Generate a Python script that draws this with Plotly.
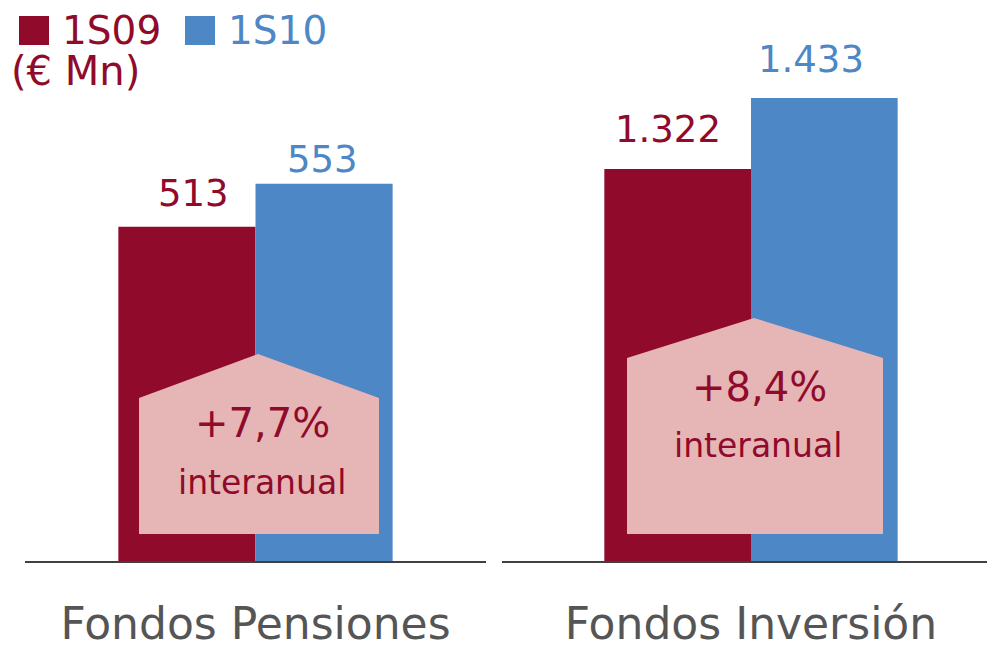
import plotly.graph_objects as go

categories = ["Fondos Pensiones", "Fondos Inversión"]
series_names = ["1S09", "1S10"]
pensiones = [513, 553]
inversion = [1322, 1433]
value_labels_p = ["513", "553"]
value_labels_i = ["1.322", "1.433"]
growth_labels = ["+7,7%", "+8,4%"]
growth_sub = "interanual"
unit_label = "(€ Mn)"

RED = "#8F0A2B"
BLUE = "#4E87C6"
PINK = "#E6B5B5"
GRAY = "#555555"
FONT = "DejaVu Sans"
OFF = 8  # page body margin
W, H = 995 - OFF, 648 - OFF

def px(x):
    return (x - OFF) / W

def py(y):
    return 1 - (y - OFF) / H

fig = go.Figure()
colors = [RED, BLUE]
for i, name in enumerate(series_names):
    fig.add_trace(go.Bar(x=[categories[0]], y=[pensiones[i]], name=name,
                         marker=dict(color=colors[i], line=dict(width=0)),
                         xaxis="x", yaxis="y", showlegend=False))
    fig.add_trace(go.Bar(x=[categories[1]], y=[inversion[i]], name=name,
                         marker=dict(color=colors[i], line=dict(width=0)),
                         xaxis="x2", yaxis="y2", showlegend=False))

# panel 1: 202 -> baseline, 1.075 px/unit ; panel 2: 709 -> baseline, 0.6396 px/unit
base_px = 561
top_px = OFF
ybottom = py(base_px)
y1_top = 202 + (base_px - top_px) / 1.075
y2_top = 709 + (base_px - top_px) / 0.6396
d2 = 2.5 / 493
xcommon = dict(showline=True, linecolor="#404040", linewidth=1.5,
               showgrid=False, ticks="", automargin=False,
               tickfont=dict(size=44, color=GRAY), ticklabelstandoff=23)
fig.update_layout(
    width=W, height=H, margin=dict(l=0, r=0, t=0, b=0),
    paper_bgcolor="white", plot_bgcolor="white",
    barmode="group", bargap=0.405, bargroupgap=0,
    font=dict(family=FONT),
    xaxis=dict(domain=[px(25), px(486)], range=[-0.5, 0.5], **xcommon),
    xaxis2=dict(domain=[px(502), 1], range=[-0.5 - d2, 0.5 - d2],
                anchor="y2", **xcommon),
    yaxis=dict(domain=[ybottom, 1], range=[202, y1_top], visible=False,
               automargin=False),
    yaxis2=dict(domain=[ybottom, 1], range=[709, y2_top], visible=False,
                anchor="x2", automargin=False),
)

# value labels above bars
label_specs = [
    ("y", pensiones[0], value_labels_p[0], 193.5, 10, RED),
    ("y", pensiones[1], value_labels_p[1], 322.5, 1, BLUE),
    ("y2", inversion[0], value_labels_i[0], 667.5, 16, RED),
    ("y2", inversion[1], value_labels_i[1], 811, 15, BLUE),
]
for yr, val, txt, xpx, ysh, col in label_specs:
    fig.add_annotation(xref="paper", yref=yr, x=px(xpx), y=val, text=txt,
                       showarrow=False, xanchor="center", yanchor="bottom",
                       yshift=ysh, font=dict(size=37, color=col, family=FONT))

# house-shaped growth boxes
houses = [
    (139, 379, 258, 354, 398, 534),
    (627, 883, 754, 318, 358, 534),
]
for (x0, x1, xa, ya, ys, yb) in houses:
    path = (f"M {px(x0)},{py(yb)} L {px(x0)},{py(ys)} L {px(xa)},{py(ya)} "
            f"L {px(x1)},{py(ys)} L {px(x1)},{py(yb)} Z")
    fig.add_shape(type="path", path=path, xref="paper", yref="paper",
                  fillcolor=PINK, line=dict(width=0), layer="above")

growth_pos = [(262.5, 423, 262, 482), (759.5, 387, 758, 445)]
for (gx, gy, sx, sy), gl in zip(growth_pos, growth_labels):
    fig.add_annotation(xref="paper", yref="paper", x=px(gx), y=py(gy),
                       text=gl, showarrow=False, xanchor="center",
                       yanchor="middle",
                       font=dict(size=40, color=RED, family=FONT))
    fig.add_annotation(xref="paper", yref="paper", x=px(sx), y=py(sy),
                       text=growth_sub, showarrow=False, xanchor="center",
                       yanchor="middle",
                       font=dict(size=33, color=RED, family=FONT))

# legend
for (x0, x1), col, name, tx in zip([(19, 49), (185, 215)], colors,
                                   series_names, [60, 226]):
    fig.add_shape(type="rect", xref="paper", yref="paper",
                  x0=px(x0), x1=px(x1), y0=py(45), y1=py(16),
                  fillcolor=col, line=dict(width=0))
    fig.add_annotation(xref="paper", yref="paper", x=px(tx), y=py(30),
                       text=name, showarrow=False, xanchor="left",
                       yanchor="middle", font=dict(size=39, color=col, family=FONT))
fig.add_annotation(xref="paper", yref="paper", x=px(9), y=py(71),
                   text=unit_label, showarrow=False, xanchor="left",
                   yanchor="middle", font=dict(size=40, color=RED, family=FONT))

fig.write_html("out.html")
